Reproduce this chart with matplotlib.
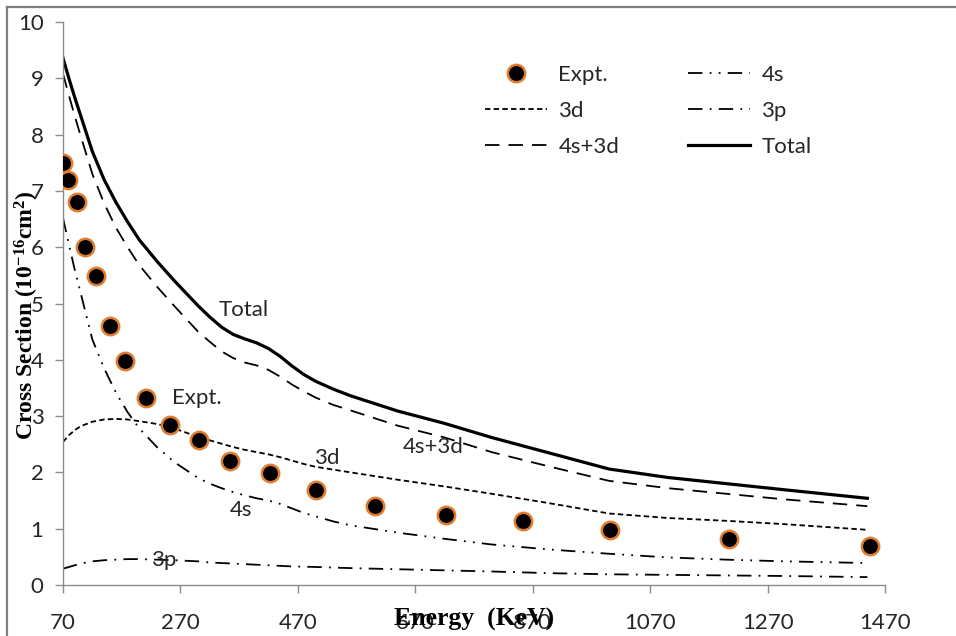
import matplotlib
matplotlib.use("Agg")
import matplotlib.pyplot as plt
from matplotlib.lines import Line2D

plt.rcParams["mathtext.fontset"] = "custom"
plt.rcParams["mathtext.rm"] = "Liberation Serif:bold"
plt.rcParams["mathtext.it"] = "Liberation Serif:bold"
plt.rcParams["mathtext.bf"] = "Liberation Serif:bold"

# ---- data ----
energy = [70, 80, 90, 100, 120, 140, 160, 180, 200, 230, 260, 300, 320, 340, 360,
          380, 400, 420, 440, 460, 480, 500, 530, 560, 640, 720, 800, 900, 1000,
          1100, 1200, 1300, 1440]
cs_4s = [6.52, 6.05, 5.60, 5.19, 4.36, 3.85, 3.42, 3.07, 2.78, 2.45, 2.18, 1.90,
         1.80, 1.72, 1.65, 1.59, 1.54, 1.50, 1.44, 1.36, 1.28, 1.22, 1.13, 1.06,
         0.93, 0.82, 0.72, 0.63, 0.555, 0.49, 0.45, 0.42, 0.39]
cs_3d = [2.54, 2.66, 2.75, 2.82, 2.90, 2.94, 2.95, 2.94, 2.91, 2.86, 2.78, 2.63,
         2.57, 2.51, 2.45, 2.40, 2.36, 2.32, 2.27, 2.21, 2.15, 2.10, 2.05, 2.00,
         1.87, 1.75, 1.62, 1.45, 1.27, 1.19, 1.14, 1.08, 0.98]
cs_3p = [0.29, 0.32, 0.35, 0.38, 0.42, 0.44, 0.45, 0.46, 0.46, 0.45, 0.44, 0.42,
         0.40, 0.39, 0.38, 0.37, 0.36, 0.35, 0.34, 0.33, 0.325, 0.32, 0.31, 0.30,
         0.28, 0.26, 0.24, 0.21, 0.19, 0.18, 0.17, 0.16, 0.14]
cs_4s3d = [9.08, 8.70, 8.33, 7.98, 7.30, 6.78, 6.35, 6.00, 5.68, 5.30, 4.95, 4.50,
           4.32, 4.15, 4.03, 3.95, 3.90, 3.82, 3.70, 3.56, 3.44, 3.33, 3.20, 3.10,
           2.83, 2.62, 2.36, 2.10, 1.85, 1.72, 1.62, 1.52, 1.40]
cs_total = [9.36, 9.00, 8.66, 8.34, 7.70, 7.20, 6.80, 6.45, 6.13, 5.75, 5.40, 4.96,
            4.76, 4.58, 4.45, 4.37, 4.30, 4.20, 4.06, 3.89, 3.74, 3.62, 3.48, 3.36,
            3.09, 2.87, 2.62, 2.34, 2.06, 1.91, 1.80, 1.69, 1.54]

expt_energy = [70, 79, 93, 108, 126, 150, 176, 211, 252, 301, 355, 422, 501,
               602, 722, 853, 1002, 1205, 1444]
expt_cs = [7.50, 7.20, 6.80, 6.00, 5.49, 4.60, 3.98, 3.33, 2.85, 2.57, 2.20,
           1.99, 1.68, 1.41, 1.25, 1.14, 0.98, 0.82, 0.70]

xticks = [70, 270, 470, 670, 870, 1070, 1270, 1470]
yticks = [0, 1, 2, 3, 4, 5, 6, 7, 8, 9, 10]

# ---- figure ----
W, H = 956, 636
fig = plt.figure(figsize=(W / 100, H / 100), dpi=100)
ax = fig.add_axes([63 / W, 1 - 585 / H, (885 - 63) / W, (585 - 22) / H])

sans = ["Lato", "DejaVu Sans"]
serif = ["Liberation Serif", "DejaVu Serif"]

ax.plot(expt_energy, expt_cs, linestyle="none", marker="o", markersize=12.5,
        markerfacecolor="black", markeredgecolor="#E07C2E", markeredgewidth=1.8,
        label="Expt.", zorder=5)
ax.plot(energy, cs_3d, color="black", lw=1.3, dashes=(3.0, 1.8), label="3d")
ax.plot(energy, cs_4s3d, color="black", lw=1.3, dashes=(8, 5), label="4s+3d")
ax.plot(energy, cs_4s, color="black", lw=1.3, dashes=(8, 4, 1, 4, 1, 4), label="4s")
ax.plot(energy, cs_3p, color="black", lw=1.3, dashes=(8, 4, 1, 4), label="3p")
ax.plot(energy, cs_total, color="black", lw=2.3, label="Total")

ax.set_xlim(70, 1470)
ax.set_ylim(0, 10)
ax.set_xticks(xticks)
ax.set_yticks(yticks)
for s in ["top", "right"]:
    ax.spines[s].set_visible(False)
for s in ["left", "bottom"]:
    ax.spines[s].set_color("#8c8c8c")
    ax.spines[s].set_linewidth(1.0)
ax.tick_params(axis="both", direction="out", length=6, width=1.0, color="#8c8c8c",
               labelsize=16, labelcolor="#262626")
ax.tick_params(axis="x", pad=14)
ax.tick_params(axis="y", pad=8)
for lab in ax.get_xticklabels() + ax.get_yticklabels():
    lab.set_fontfamily(sans)

# in-plot annotations
ann = dict(fontsize=16, family=sans, color="#262626", ha="center", va="center")
ax.text(378, 4.88, "Total", **ann)
ax.text(298, 3.32, "Expt.", **ann)
ax.text(520, 2.25, "3d", **ann)
ax.text(701, 2.45, "4s+3d", **ann)
ax.text(373, 1.33, "4s", **ann)
ax.text(241, 0.44, "3p", **ann)

# axis titles
ax.set_xlabel("Energy  (KeV)", fontsize=18.5, fontweight="bold", family=serif)
ax.xaxis.set_label_coords(0.5, -0.062)
ax.xaxis.label.set_va("center")
fig.text(27 / W, 1 - 315 / H, "Cross Section (10$^{-16}$cm$^{2}$)", rotation=90,
         fontsize=17, fontweight="bold", family=serif, ha="center", va="center")

leg = ax.legend(ncol=2, loc="upper left", bbox_to_anchor=(485 / W, 1 - 65 / H),
                bbox_transform=fig.transFigure, frameon=False,
                prop={"family": sans, "size": 16}, handlelength=2.8,
                handletextpad=0.5, columnspacing=3.1, labelspacing=0.72,
                borderpad=0, borderaxespad=0)
for t in leg.get_texts():
    t.set_color("#262626")

# outer frame (top and left edges of the chart area)
fig.add_artist(Line2D([7 / W, 1], [1 - 7 / H, 1 - 7 / H], transform=fig.transFigure,
                      color="#7f7f7f", lw=1.6))
fig.add_artist(Line2D([7 / W, 7 / W], [0, 1 - 7 / H], transform=fig.transFigure,
                      color="#7f7f7f", lw=1.6))

fig.savefig("out.png", dpi=100)
